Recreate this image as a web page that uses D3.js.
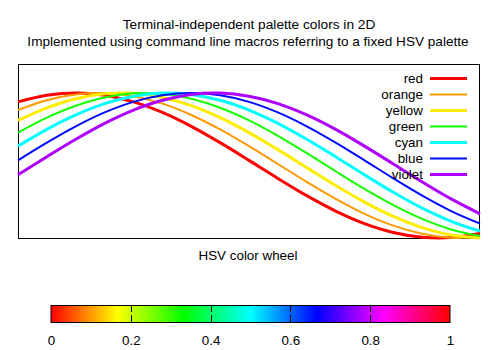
<!DOCTYPE html>
<html>
<head>
<meta charset="utf-8">
<script src="https://cdn.jsdelivr.net/npm/d3@7"></script>
<style>
  html, body { margin: 0; padding: 0; background: #fff; }
  text { font-family: "Liberation Sans", Arial, sans-serif; fill: #000; }
</style>
</head>
<body>
<svg id="chart" width="500" height="350"></svg>
<script>
// Sample positions along the horizontal axis
const xs = [-0.5, -0.25, 0, 0.25, 0.5, 0.75, 1, 1.25, 1.5, 1.75, 2, 2.25, 2.5, 2.75, 3, 3.25, 3.5];

// Curve values, one array per palette colour
const red    = [0.878, 0.969, 1.000, 0.969, 0.878, 0.732, 0.540, 0.315, 0.071, -0.178, -0.416, -0.628, -0.801, -0.924, -0.990, -0.994, -0.936];
const orange = [0.765, 0.900, 0.980, 0.999, 0.955, 0.853, 0.697, 0.498, 0.267, 0.021, -0.227, -0.461, -0.666, -0.830, -0.942, -0.996, -0.987];
const yellow = [0.622, 0.796, 0.921, 0.989, 0.995, 0.939, 0.825, 0.660, 0.454, 0.219, -0.029, -0.276, -0.505, -0.703, -0.857, -0.959, -0.999];
const green  = [0.454, 0.660, 0.825, 0.939, 0.995, 0.989, 0.921, 0.796, 0.622, 0.409, 0.170, -0.079, -0.323, -0.547, -0.737, -0.882, -0.971];
const cyan   = [0.267, 0.498, 0.697, 0.853, 0.955, 0.999, 0.980, 0.900, 0.765, 0.582, 0.362, 0.121, -0.129, -0.370, -0.589, -0.770, -0.904];
const blue   = [0.071, 0.315, 0.540, 0.732, 0.878, 0.969, 1.000, 0.969, 0.878, 0.732, 0.540, 0.315, 0.071, -0.178, -0.416, -0.628, -0.801];
const violet = [-0.129, 0.121, 0.362, 0.582, 0.765, 0.900, 0.980, 0.999, 0.955, 0.853, 0.697, 0.498, 0.267, 0.021, -0.227, -0.461, -0.666];

const seriesNames = ["red", "orange", "yellow", "green", "cyan", "blue", "violet"];
const seriesValues = [red, orange, yellow, green, cyan, blue, violet];
// Position of each series on the HSV palette (fraction of the colour wheel)
const paletteFrac = [0, 0.1, 0.155, 0.32, 0.5, 0.66, 0.78];

// Colour bar tick labels
const cbTicks = [0, 0.2, 0.4, 0.6, 0.8, 1];

const svg = d3.select("#chart");

// HSV palette with full saturation and value: hue = fraction of the wheel
const hsv = f => d3.hsl((f % 1) * 360, 1, 0.5).formatHex();

const plot = { left: 18, right: 480, top: 64, bottom: 238 };
const x = d3.scaleLinear().domain([-0.5, 3.5]).range([plot.left, plot.right]);
const y = d3.scaleLinear().domain([-1, 1.4]).range([plot.bottom, plot.top]);

// Titles
svg.append("text").attr("x", 249).attr("y", 29).attr("text-anchor", "middle")
  .style("font-size", "13.7px").text("Terminal-independent palette colors in 2D");
svg.append("text").attr("x", 248).attr("y", 46).attr("text-anchor", "middle")
  .style("font-size", "13.6px").text("Implemented using command line macros referring to a fixed HSV palette");

// Plot border
svg.append("rect")
  .attr("x", plot.left + 0.5).attr("y", plot.top + 0.5)
  .attr("width", plot.right - plot.left - 1).attr("height", plot.bottom - plot.top)
  .attr("fill", "none").attr("stroke", "#000").attr("stroke-width", 1);

// Curves
const line = d3.line()
  .x((d, i) => x(xs[i]))
  .y(d => y(d))
  .curve(d3.curveCatmullRom.alpha(0.5));

const widths = [3, 2, 3, 2, 3, 2, 3];

seriesValues.forEach((vals, k) => {
  svg.append("path")
    .attr("d", line(vals))
    .attr("fill", "none")
    .attr("stroke", hsv(paletteFrac[k]))
    .attr("stroke-width", widths[k]);
});

// Legend
const legend = svg.append("g");
seriesNames.forEach((name, k) => {
  const ly = 78.5 + k * 16;
  legend.append("text")
    .attr("x", 423).attr("y", ly + 4.5)
    .attr("text-anchor", "end")
    .style("font-size", "13.4px")
    .text(name);
  legend.append("line")
    .attr("x1", 430).attr("x2", 467)
    .attr("y1", ly).attr("y2", ly)
    .attr("stroke", hsv(paletteFrac[k]))
    .attr("stroke-width", widths[k]);
});

// X axis label
svg.append("text").attr("x", 248).attr("y", 260).attr("text-anchor", "middle")
  .style("font-size", "13.4px").text("HSV color wheel");

// Colour bar
const cb = { left: 51, right: 450, top: 305.5, bottom: 322.5 };
const cbScale = d3.scaleLinear().domain([0, 1]).range([cb.left, cb.right]);

const grad = svg.append("defs").append("linearGradient")
  .attr("id", "hsvgrad").attr("x1", "0%").attr("x2", "100%").attr("y1", "0%").attr("y2", "0%");
d3.range(0, 1.0001, 1 / 36).forEach(f => {
  grad.append("stop").attr("offset", (f * 100) + "%").attr("stop-color", hsv(f));
});

svg.append("rect")
  .attr("x", cb.left).attr("y", cb.top)
  .attr("width", cb.right - cb.left).attr("height", cb.bottom - cb.top)
  .attr("fill", "url(#hsvgrad)")
  .attr("stroke", "#000").attr("stroke-width", 1);

// Inner ticks from the top and bottom edges
const innerTicks = cbTicks.filter(t => t > 0 && t < 1);
innerTicks.forEach(t => {
  const tx = Math.round(cbScale(t)) + 0.5;
  svg.append("line").attr("x1", tx).attr("x2", tx)
    .attr("y1", cb.top).attr("y2", cb.top + 6.5)
    .attr("stroke", "#000").attr("stroke-width", 1);
  svg.append("line").attr("x1", tx).attr("x2", tx)
    .attr("y1", cb.bottom - 7.5).attr("y2", cb.bottom)
    .attr("stroke", "#000").attr("stroke-width", 1);
});

const cbAxis = d3.axisBottom(cbScale).tickValues(cbTicks).tickSize(0)
  .tickFormat(d => d === 0 || d === 1 ? String(d) : d3.format(".1f")(d));
const gAxis = svg.append("g").attr("transform", `translate(0,${cb.bottom + 10})`).call(cbAxis);
gAxis.select(".domain").remove();
gAxis.selectAll("text")
  .style("font-size", "13.4px")
  .style("font-family", "'Liberation Sans', Arial, sans-serif")
  .attr("fill", "#000");
</script>
</body>
</html>
